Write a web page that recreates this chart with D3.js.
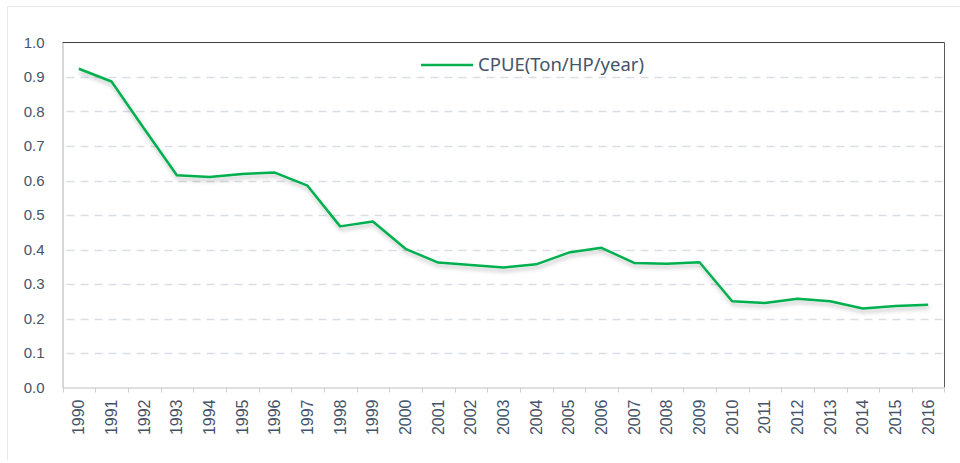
<!DOCTYPE html>
<html>
<head>
<meta charset="utf-8">
<script src="https://cdn.jsdelivr.net/npm/d3@7"></script>
<style>
  body { margin: 0; background: #fff; }
  svg { display: block; font-family: "Noto Sans", sans-serif; }
</style>
</head>
<body>
<div id="chart"></div>
<script>
const years = d3.range(1990, 2017).map(String);
const cpue = [0.924, 0.887, 0.750, 0.615, 0.610, 0.619, 0.623, 0.585, 0.467, 0.481,
              0.402, 0.362, 0.355, 0.348, 0.357, 0.391, 0.405, 0.361, 0.359, 0.363,
              0.250, 0.245, 0.257, 0.250, 0.229, 0.236, 0.240];
const yTicks = [0, 0.1, 0.2, 0.3, 0.4, 0.5, 0.6, 0.7, 0.8, 0.9, 1.0];
const seriesName = "CPUE(Ton/HP/year)";

const width = 960, height = 463;
const margin = { top: 42.5, right: 15.5, bottom: 75.5, left: 62.5 };
const textColor = "#44546a";

const svg = d3.select("#chart").append("svg")
    .attr("width", width)
    .attr("height", height);

// soft drop shadow for the line
const defs = svg.append("defs");
const filter = defs.append("filter").attr("id", "shadow")
    .attr("x", "-5%").attr("y", "-20%").attr("width", "110%").attr("height", "140%");
filter.append("feDropShadow")
    .attr("dx", 1).attr("dy", 3).attr("stdDeviation", 2)
    .attr("flood-color", "#000").attr("flood-opacity", 0.25);

// outer frame (only top and left edges show)
svg.append("path")
    .attr("d", `M7.5,460V6.5H${width}`)
    .attr("fill", "none").attr("stroke", "#e6e9ee");

const x = d3.scaleBand()
    .domain(years)
    .range([margin.left, width - margin.right]);

const y = d3.scaleLinear()
    .domain([0, 1])
    .range([height - margin.bottom, margin.top]);

// dashed gridlines
svg.append("g")
    .selectAll("line")
    .data(yTicks.filter(d => d > 0 && d < 1))
    .join("line")
    .attr("x1", margin.left + 4).attr("x2", width - margin.right - 2)
    .attr("y1", d => Math.round(y(d)) + 0.5).attr("y2", d => Math.round(y(d)) + 0.5)
    .attr("stroke", "#d9dde5")
    .attr("stroke-width", 1.5)
    .attr("stroke-dasharray", "8,6");

// plot border: top and right darker
svg.append("line")
    .attr("x1", margin.left).attr("x2", width - margin.right)
    .attr("y1", margin.top).attr("y2", margin.top)
    .attr("stroke", "#404040");
svg.append("line")
    .attr("x1", width - margin.right).attr("x2", width - margin.right)
    .attr("y1", margin.top).attr("y2", height - margin.bottom)
    .attr("stroke", "#595959");

// y axis
const yAxis = svg.append("g")
    .attr("transform", `translate(${margin.left},0)`)
    .call(d3.axisLeft(y).tickValues(yTicks).tickFormat(d3.format(".1f")).tickSize(0).tickPadding(18));
yAxis.select(".domain").attr("stroke", "#b0b0b0");
yAxis.selectAll("text")
    .attr("fill", textColor)
    .style("font-size", "15px");

// x axis
const xAxis = svg.append("g")
    .attr("transform", `translate(0,${height - margin.bottom})`)
    .call(d3.axisBottom(x).tickSize(0));
xAxis.select(".domain").attr("stroke", "#c0c0c0");
xAxis.selectAll(".tick line").remove();
xAxis.selectAll(".tick text")
    .attr("fill", textColor)
    .style("font-size", "16px")
    .attr("text-anchor", "end")
    .attr("transform", "rotate(-90)")
    .attr("x", -12)
    .attr("y", 0)
    .attr("dy", "0.35em");

// tick marks at band boundaries
svg.append("g")
    .selectAll("line")
    .data(years.concat(["end"]))
    .join("line")
    .attr("x1", (d, i) => Math.round(margin.left + i * x.step()) + 0.5)
    .attr("x2", (d, i) => Math.round(margin.left + i * x.step()) + 0.5)
    .attr("y1", height - margin.bottom)
    .attr("y2", height - margin.bottom + 5)
    .attr("stroke", "#d0d0d0");

// series line
const line = d3.line()
    .x((d, i) => x(years[i]) + x.bandwidth() / 2)
    .y(d => y(d));

svg.append("path")
    .datum(cpue)
    .attr("d", line)
    .attr("fill", "none")
    .attr("stroke", "#00b050")
    .attr("stroke-width", 2.5)
    .attr("stroke-linejoin", "round")
    .attr("filter", "url(#shadow)");

// legend
const legend = svg.append("g").attr("transform", "translate(421,65)");
legend.append("line")
    .attr("x1", 0).attr("x2", 52)
    .attr("stroke", "#00b050").attr("stroke-width", 2.5);
legend.append("text")
    .attr("x", 57).attr("y", 0).attr("dy", "0.35em")
    .attr("fill", textColor)
    .style("font-size", "18.5px")
    .text(seriesName);
</script>
</body>
</html>
